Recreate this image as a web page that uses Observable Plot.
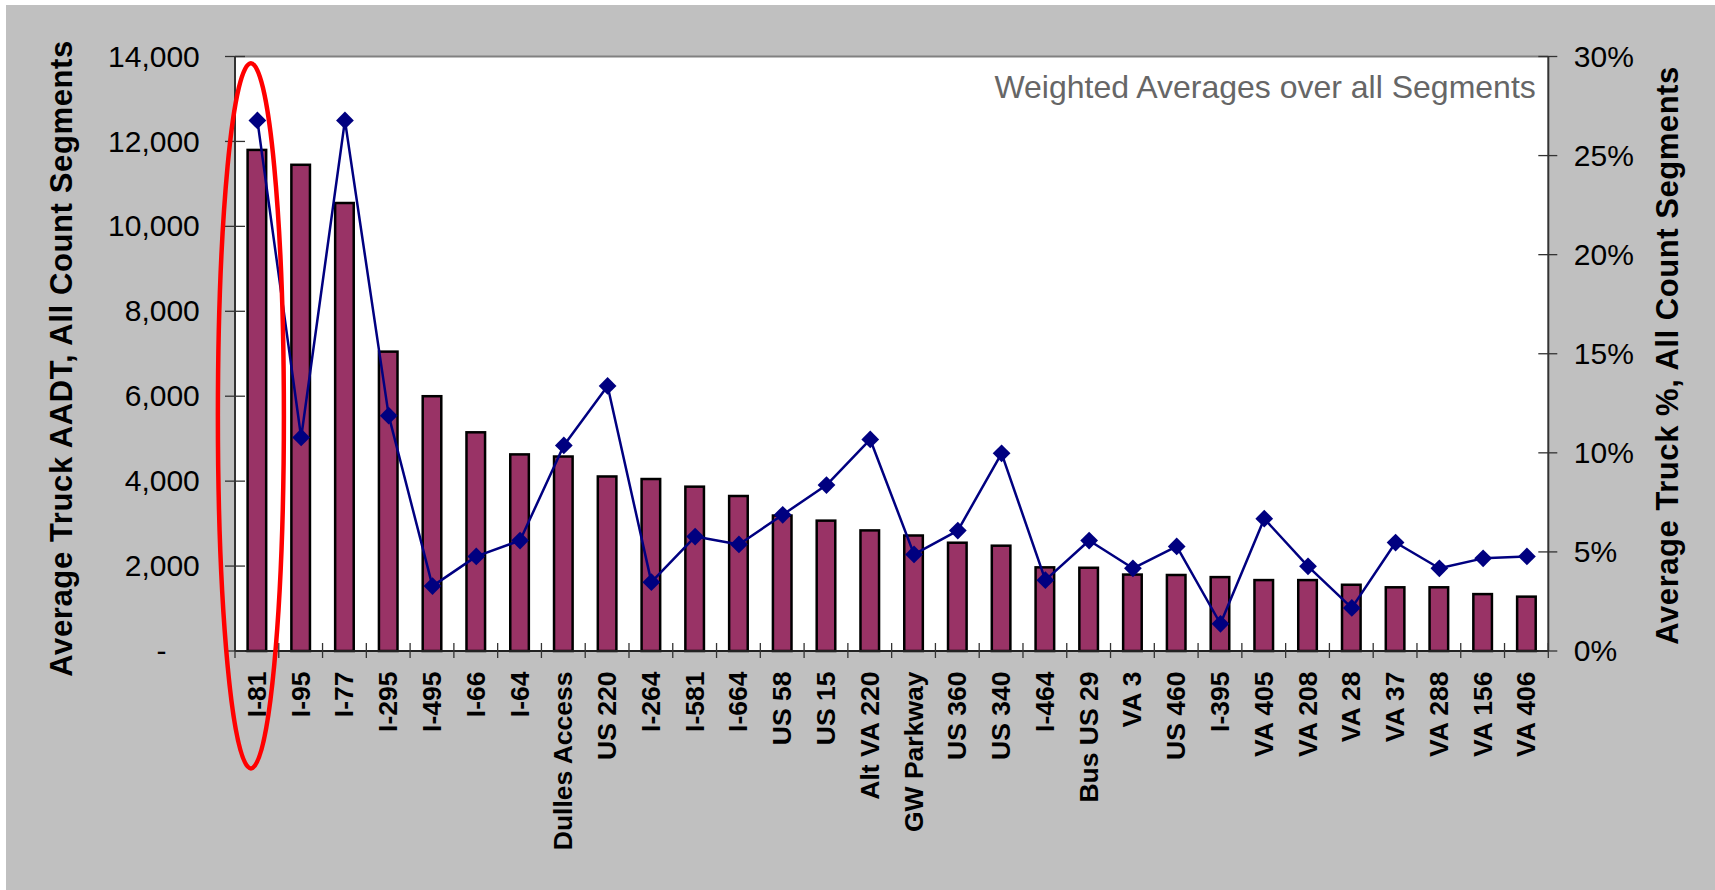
<!DOCTYPE html>
<html><head><meta charset="utf-8">
<script src="https://cdn.jsdelivr.net/npm/d3@7"></script>
<script src="https://cdn.jsdelivr.net/npm/@observablehq/plot@0.6"></script>
<style>
html,body{margin:0;padding:0;background:#fff;}
#chart{position:absolute;left:6px;top:5px;width:1709px;height:885px;background:#c0c0c0;}
</style></head><body><div id="chart"></div>
<script>
const routes = ["I-81","I-95","I-77","I-295","I-495","I-66","I-64","Dulles Access","US 220","I-264","I-581","I-664","US 58","US 15","Alt VA 220","GW Parkway","US 360","US 340","I-464","Bus US 29","VA 3","US 460","I-395","VA 405","VA 208","VA 28","VA 37","VA 288","VA 156","VA 406"];
const truckAADT = [11800,11450,10550,7050,6000,5150,4630,4580,4110,4050,3870,3650,3190,3070,2840,2720,2550,2480,1970,1960,1800,1790,1740,1670,1670,1560,1500,1500,1340,1280];
const truckPct = [26.8,10.8,26.8,11.9,3.3,4.8,5.6,10.4,13.4,3.5,5.8,5.4,6.9,8.4,10.7,4.9,6.1,10.0,3.6,5.6,4.2,5.3,1.4,6.7,4.3,2.2,5.5,4.2,4.7,4.8];
const leftTicks = [0,2000,4000,6000,8000,10000,12000,14000];
const rightTicks = [0,5,10,15,20,25,30];
const leftTitle = "Average Truck AADT, All Count Segments";
const rightTitle = "Average Truck %, All Count Segments";
const note = "Weighted Averages over all Segments";
const highlighted = "I-81";

const yMax = 14000, pMax = 30, k = yMax / pMax;
const rows = routes.map((r, i) => ({route: r, aadt: truckAADT[i], pct: truckPct[i]}));
const FONT = "'Liberation Sans', Arial, sans-serif";

function decorations(index, scales, values, dims) {
  const x = scales.x, y = scales.y;
  const bw = x.bandwidth ? x.bandwidth() : 0;
  const {width, height, marginLeft, marginRight, marginTop, marginBottom} = dims;
  const x0 = marginLeft, x1 = width - marginRight, y0 = marginTop, y1 = height - marginBottom;
  const g = d3.create("svg:g");
  g.append("line").attr("x1", x0).attr("x2", x1).attr("y1", y0).attr("y2", y0).attr("stroke", "#808080").attr("stroke-width", 2);
  g.append("line").attr("x1", x0).attr("x2", x0).attr("y1", y0).attr("y2", y1).attr("stroke", "#333").attr("stroke-width", 2);
  g.append("line").attr("x1", x1).attr("x2", x1).attr("y1", y0).attr("y2", y1).attr("stroke", "#333").attr("stroke-width", 2);
  g.append("line").attr("x1", x0).attr("x2", x1).attr("y1", y1).attr("y2", y1).attr("stroke", "#222").attr("stroke-width", 2);
  for (const t of leftTicks) {
    g.append("line").attr("x1", x0 - 10).attr("x2", x0 + 10).attr("y1", y(t)).attr("y2", y(t)).attr("stroke", "#333").attr("stroke-width", 1.3);
  }
  for (const t of rightTicks) {
    g.append("line").attr("x1", x1 - 10).attr("x2", x1 + 9).attr("y1", y(t * k)).attr("y2", y(t * k)).attr("stroke", "#333").attr("stroke-width", 1.3);
  }
  const edges = routes.map(r => x(r)).concat([x(routes[routes.length - 1]) + bw]);
  for (const e of edges) {
    g.append("line").attr("x1", e).attr("x2", e).attr("y1", y1 - 8).attr("y2", y1 + 7).attr("stroke", "#333").attr("stroke-width", 1.3);
  }
  g.append("text").text(leftTitle)
    .attr("transform", `translate(65.7,${(y0 + y1) / 2 + 5}) rotate(-90)`)
    .attr("text-anchor", "middle").attr("font-weight", "bold").attr("font-size", 31)
    .attr("textLength", 636).attr("lengthAdjust", "spacing").attr("fill", "black");
  g.append("text").text(rightTitle)
    .attr("transform", `translate(1672.3,${(y0 + y1) / 2 + 2}) rotate(-90)`)
    .attr("text-anchor", "middle").attr("font-weight", "bold").attr("font-size", 31)
    .attr("textLength", 578).attr("lengthAdjust", "spacing").attr("fill", "black");
  const cx = x(highlighted) + bw / 2 - 6;
  const top = y(13840), bottom = y(-2765);
  g.append("ellipse").attr("cx", cx).attr("cy", (top + bottom) / 2).attr("rx", 33).attr("ry", (bottom - top) / 2)
    .attr("fill", "none").attr("stroke", "#ff0000").attr("stroke-width", 4.5);
  return g.node();
}

const chart = Plot.plot({
  width: 1709,
  height: 885,
  marginLeft: 229,
  marginTop: 51.5,
  marginRight: 166.7,
  marginBottom: 239,
  style: {background: "#c0c0c0", color: "black", fontFamily: FONT, overflow: "visible"},
  x: {domain: routes, padding: 0, round: false},
  y: {domain: [0, yMax]},
  marks: [
    Plot.frame({fill: "white", stroke: "none"}),
    Plot.barY(rows, {x: "route", y: "aadt", fill: "#993366", stroke: "black", strokeWidth: 2.5, insetLeft: 12.6, insetRight: 12.6}),
    Plot.line(rows, {x: "route", y: d => d.pct * k, stroke: "#000080", strokeWidth: 2.5}),
    Plot.dot(rows, {x: "route", y: d => d.pct * k, symbol: "diamond2", r: 8, fill: "#000080", stroke: "none"}),
    Plot.text([note], {text: d => d, frameAnchor: "top-right", lineAnchor: "top", dx: -13, dy: 18, fontSize: 32, fill: "#666"}),
    Plot.axisY({anchor: "left", ticks: leftTicks, tickFormat: d => d === 0 ? "-\u00a0\u00a0\u00a0\u00a0" : d3.format(",")(d), tickSize: 0, tickPadding: 35.7, fontSize: 30, label: null}),
    Plot.axisY({anchor: "right", ticks: rightTicks.map(v => v * k), tickFormat: d => Math.round(d / k) + "%", tickSize: 0, tickPadding: 25, fontSize: 30, label: null}),
    Plot.axisX({anchor: "bottom", tickRotate: -90, tickSize: 0, tickPadding: 20, fontSize: 26.5, fontWeight: "bold", label: null}),
    decorations
  ]
});
document.getElementById("chart").appendChild(chart);
</script>
</body></html>
